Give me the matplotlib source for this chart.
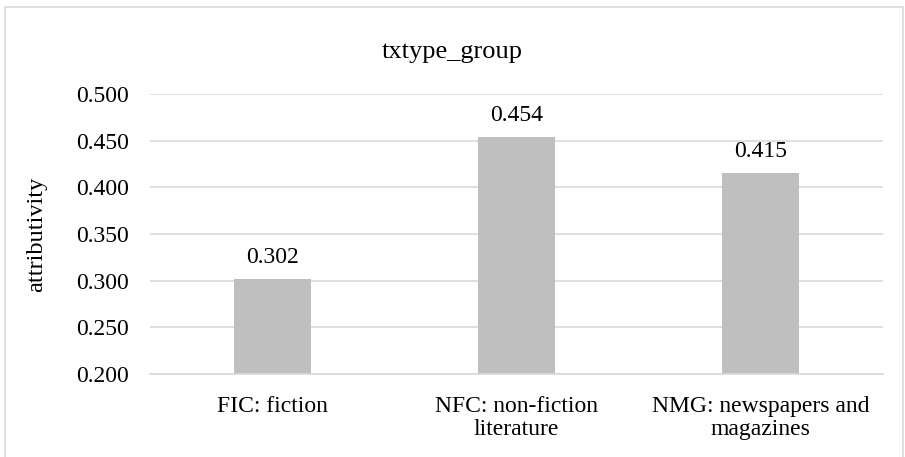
import matplotlib
matplotlib.use("Agg")
import matplotlib.pyplot as plt
from matplotlib.patches import Rectangle

categories = ["FIC: fiction", "NFC: non-fiction\nliterature", "NMG: newspapers and\nmagazines"]
values = [0.302, 0.454, 0.415]
yticks = [0.200, 0.250, 0.300, 0.350, 0.400, 0.450, 0.500]

plt.rcParams["font.family"] = ["Liberation Serif", "DejaVu Serif"]

W, H = 905, 457
fig = plt.figure(figsize=(W / 100, H / 100), dpi=100)

# outer chart frame
fig.patches.append(Rectangle((5 / W, -0.05), 898 / W, (H - 7) / H + 0.05,
                             transform=fig.transFigure, fill=False,
                             edgecolor="#D9D9D9", linewidth=1.2))

left, right, top, bottom = 150, 883, 94, 374
ax = fig.add_axes([left / W, 1 - bottom / H, (right - left) / W, (bottom - top) / H])

x = list(range(len(categories)))
bars = ax.bar(x, values, width=0.315, color="#BFBFBF", zorder=3)
ax.set_xlim(-0.5, len(categories) - 0.5)
ax.set_ylim(yticks[0], yticks[-1])
ax.set_yticks(yticks)
ax.set_yticklabels([f"{t:.3f}" for t in yticks], fontsize=17)
ax.set_xticks(x)
ax.set_xticklabels(categories, fontsize=17, linespacing=1.1)
ax.tick_params(axis="both", length=0, colors="#000000")
ax.tick_params(axis="y", pad=15)
ax.tick_params(axis="x", pad=16)

ax.grid(axis="y", color="#D9D9D9", linewidth=1.2, zorder=0)
for s in ["top", "right", "left"]:
    ax.spines[s].set_visible(False)
ax.spines["bottom"].set_color("#D9D9D9")
ax.spines["bottom"].set_linewidth(1.2)
ax.spines["bottom"].set_zorder(4)

for xi, v in zip(x, values):
    ax.annotate(f"{v:.3f}", (xi, v), xytext=(0, 8), textcoords="offset points",
                ha="center", va="bottom", fontsize=17)

ax.set_ylabel("attributivity", fontsize=17.5, labelpad=21)
fig.text(452 / W, 1 - 52 / H, "txtype_group", ha="center",
         va="center", fontsize=19)

fig.savefig("out.png", dpi=100)
